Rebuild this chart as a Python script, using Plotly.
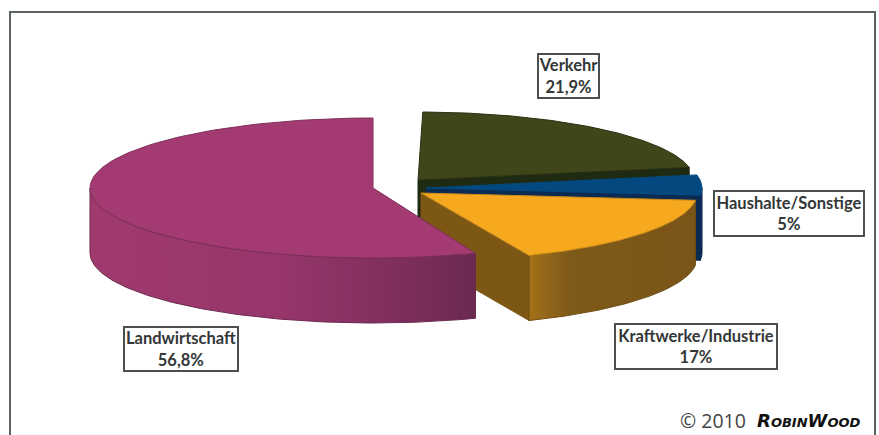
import numpy as np
import plotly.graph_objects as go

# Emission shares by source
sectors = ["Landwirtschaft", "Verkehr", "Haushalte/Sonstige", "Kraftwerke/Industrie"]
shares = [56.8, 21.9, 5, 17]

total = sum(shares)
sweeps = [v / total * 360 for v in shares]

DEPTH = 65


def rim(cx, cy, rx, ry, t0, t1, drop=0.0, n=120):
    """Points on a tilted pie rim; angles in degrees, clockwise from the top."""
    t = np.radians(np.linspace(t0, t1, n))
    return cx + rx * np.sin(t), cy - ry * np.cos(t) + drop


def wedge(fig, cx, cy, rx, ry, t0, t1, color, edge):
    x, y = rim(cx, cy, rx, ry, t0, t1)
    fig.add_trace(go.Scatter(
        x=np.r_[cx, x, cx], y=np.r_[cy, y, cy], mode="lines", fill="toself",
        fillcolor=color, line=dict(color=edge, width=1), hoverinfo="skip",
    ))


def outer_wall(fig, cx, cy, rx, ry, t0, t1, stops, edge):
    x, y = rim(cx, cy, rx, ry, t0, t1)
    xb, yb = rim(cx, cy, rx, ry, t0, t1, DEPTH)
    fig.add_trace(go.Scatter(
        x=np.r_[x, xb[::-1], x[0]], y=np.r_[y, yb[::-1], y[0]], mode="lines",
        fill="toself", fillgradient=dict(type="horizontal", colorscale=stops),
        line=dict(color=edge, width=1), hoverinfo="skip",
    ))


def cut_face(fig, cx, cy, rx, ry, t, color):
    x, y = rim(cx, cy, rx, ry, t, t, n=1)
    fig.add_trace(go.Scatter(
        x=[cx, x[0], x[0], cx, cx],
        y=[cy, y[0], y[0] + DEPTH, cy + DEPTH, cy],
        mode="lines", fill="toself", fillcolor=color,
        line=dict(color=color, width=1), hoverinfo="skip",
    ))


fig = go.Figure()

# Verkehr: rear slice, only its cut face and top are visible
v0 = 1.0
v1 = v0 + sweeps[1]
cut_face(fig, 418, 180, 276, 68, v1, "#1f2a12")
wedge(fig, 418, 180, 276, 68, v0, v1, "#3f461a", "#2a3012")

# Haushalte/Sonstige: thin slice pulled out to the right
h0 = sweeps[1]
h1 = h0 + sweeps[2]
cut_face(fig, 426, 188, 276, 68, h1, "#0b2b52")
outer_wall(fig, 426, 188, 276, 68, 90, h1,
           [[0, "#0b2b52"], [1, "#0b2b52"]], "#0b2b52")
wedge(fig, 426, 188, 276, 68, h0, h1, "#03497f", "#03497f")

# Kraftwerke/Industrie: the wall brightens towards its front corner
k0 = h1
k1 = k0 + sweeps[3]
cut_face(fig, 421, 193, 276, 68, k1, "#7c5814")
outer_wall(fig, 421, 193, 276, 68, k0, k1,
           [[0, "#a57214"], [0.08, "#96681a"], [0.25, "#7e5a18"], [1, "#7a5518"]],
           "#6f4e14")
wedge(fig, 421, 193, 276, 68, k0, k1, "#f6a81f", "#c98a1c")

# Landwirtschaft: largest slice, runs counter-clockwise from the top and is
# slightly foreshortened along its front edge
l1 = sweeps[0] * 0.991
outer_wall(fig, 373, 188, 283, 70, -l1, -90,
           [[0, "#a03a6e"], [0.5, "#96366a"], [0.8, "#7f2e5c"], [1, "#6a2a50"]],
           "#6c2a50")
wedge(fig, 373, 188, 283, 70, -l1, 0, "#a33b72", "#7d2f58")

# Value boxes: centre x, centre y, width, height
boxes = {
    "Landwirtschaft": (181, 349, 116, 46),
    "Verkehr": (568.5, 76, 63, 46),
    "Haushalte/Sonstige": (789, 213.5, 152, 47),
    "Kraftwerke/Industrie": (696, 346.5, 164, 47),
}
for name, value in zip(sectors, shares):
    bx, by, bw, bh = boxes[name]
    label = f"{value:g}".replace(".", ",") + "%"
    fig.add_annotation(
        x=bx, y=by, xref="x", yref="y", text=f"<b>{name}</b><br><b>{label}</b>",
        showarrow=False, width=bw - 4, height=bh - 4, align="center", valign="middle",
        bgcolor="white", bordercolor="#4a4f4f", borderwidth=2, borderpad=0,
        font=dict(family="Lato", size=16.5, color="#333737"),
    )

# Copyright line
fig.add_annotation(
    x=678, y=420, xref="x", yref="y", xanchor="left", text="© 2010", showarrow=False,
    font=dict(family="Open Sans", size=19.5, color="#444444"),
)
fig.add_annotation(
    x=755, y=420, xref="x", yref="y", xanchor="left", showarrow=False,
    text="<b><i>R<span style='font-size:13px'>OBIN</span>W<span style='font-size:13px'>OOD</span></i></b>",
    font=dict(family="DejaVu Sans", size=18, color="#111111"),
)

fig.update_layout(
    width=879, height=435, autosize=False, showlegend=False,
    margin=dict(l=0, r=0, t=0, b=0), paper_bgcolor="white", plot_bgcolor="white",
    xaxis=dict(range=[0, 879], visible=False, fixedrange=True),
    yaxis=dict(range=[435, 0], visible=False, fixedrange=True),
    shapes=[dict(type="path", xref="x", yref="y", path="M 10 440 L 10 12 L 875 12 L 875 440",
                 line=dict(color="#5a6262", width=2))],
)

fig.write_html("out.html", config=dict(displayModeBar=False))
